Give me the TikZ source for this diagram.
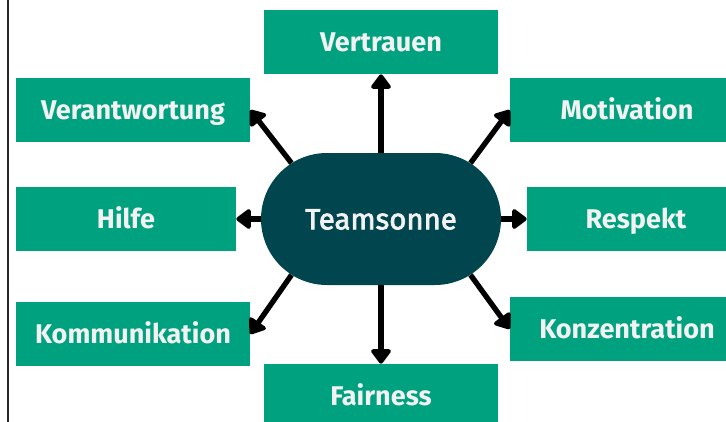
\documentclass[tikz,border=0pt]{standalone}
\usepackage{fontspec}
\setmainfont{Fira Sans}
\newfontfamily\corefont{Fira Sans}[FakeBold=2.5]
\usepackage{xcolor}
\usepackage{tikz}
\usetikzlibrary{shapes.misc, arrows.meta, positioning}

\definecolor{teamgreen}{RGB}{0,161,126}
\definecolor{teamdark}{RGB}{1,69,79}
\definecolor{teamtext}{RGB}{242,242,242}

\begin{document}
\begin{tikzpicture}[x=0.75pt, y=-0.75pt]
	\tikzstyle{value} = [rectangle, minimum width=175.5pt, minimum height=48pt, inner sep=0pt, text height=14pt, text depth=0pt, fill=teamgreen, text=teamtext, font=\bfseries\fontsize{20.3}{22}\selectfont]
	\tikzstyle{core} = [rounded rectangle, minimum width=180pt, minimum height=99pt, inner sep=0pt, text height=15.5pt, text depth=0pt, fill=teamdark, text=teamtext, font=\corefont\fontsize{22}{26}\selectfont]
	\tikzstyle{arrow} = [line width=4pt, -{Triangle[round, width=17pt, length=12pt]}]
	
	\path [use as bounding box, clip] (0,0) rectangle (726,422);
	\draw [line width=1.5pt, black!85] (7.5,0) -- (7.5,422);
	
	% Nodes
	\node (sun) [core] at (381,219) {Teamsonne};
	
	\node (vertrauen) [value] at (381,42) {Vertrauen};
	\node (verantwortung) [value] at (133,110) {Verantwortung};
	\node (motivation) [value] at (627,110) {Motivation};
	
	\node (hilfe) [value, minimum width=165pt] at (126,219) {Hilfe};
	\node (respekt) [value, minimum width=163.5pt] at (636,219) {Respekt};
	
	\node (kommunikation) [value] at (133,334) {Kommunikation};
	\node (konzentration) [value] at (627,329) {Konzentration};
	\node (fairness) [value] at (381,396) {Fairness};
	
	% Arrows
	\draw [arrow] (sun.north) -- (vertrauen.south);
	\draw [arrow] (sun.south) -- (fairness.north);
	\draw [arrow] (sun.west) -- (hilfe.east);
	\draw [arrow] (sun.east) -- (respekt.west);
	\draw [arrow] (sun.148) -- (verantwortung.east);
	\draw [arrow] (sun.32) -- (motivation.west);
	\draw [arrow] (sun.212) -- (kommunikation.east);
	\draw [arrow] (sun.328) -- (konzentration.west);
	
\end{tikzpicture}
\end{document}
